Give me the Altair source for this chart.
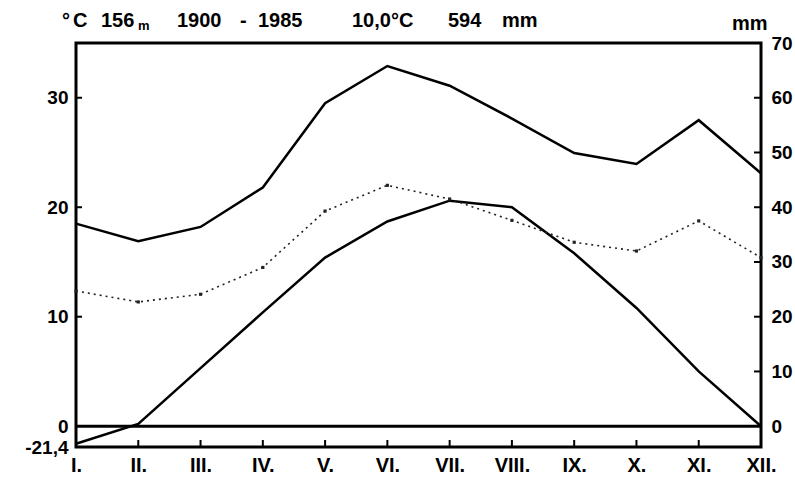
import altair as alt
import pandas as pd

# ---- data ----
months = ["I.", "II.", "III.", "IV.", "V.", "VI.", "VII.", "VIII.", "IX.", "X.", "XI.", "XII."]
temperature = [-1.6, 0.2, 5.3, 10.4, 15.4, 18.7, 20.6, 20.0, 15.8, 10.8, 5.0, 0.0]          # °C
precipitation = [37.0, 33.8, 36.4, 43.6, 59.0, 65.8, 62.2, 56.2, 49.9, 47.9, 55.9, 46.2]   # mm
dotted_curve = [24.7, 22.7, 24.1, 29.0, 39.3, 44.0, 41.5, 37.6, 33.6, 32.0, 37.5, 30.8]    # mm
left_tick_values = [10, 20, 30]
right_tick_values = [10, 20, 30, 40, 50, 60]
left_label_values = [-1.9, 0, 10, 20, 30]
right_label_values = [0, 10, 20, 30, 40, 50, 60, 70]
abs_min_label = "-21,4"
inner_ticks_months = months[1:-1]

FONT = "Liberation Sans"
W, H = 685, 404

df = pd.DataFrame({"month": months, "temp": temperature,
                   "prec": precipitation, "dot": dotted_curve})

x_axis = alt.Axis(title=None, ticks=False, tickSize=0, domain=False, grid=False,
                  labelAngle=0, labelPadding=8, labelFlush=False, labelOverlap=False,
                  labelFontSize=20, labelFontWeight="bold", labelFont=FONT,
                  labelColor="black")
x_scale = alt.Scale(type="point", padding=0)

def X(field="month"):
    return alt.X(f"{field}:N", sort=months, scale=x_scale, axis=x_axis)

t_scale = alt.Scale(domain=[-1.9, 35], nice=False, zero=False)
m_scale = alt.Scale(domain=[-3.8, 70], nice=False, zero=False)

left_axis = alt.Axis(title=None, values=left_label_values, format="d",
                     labelExpr=f"datum.value < -1 ? '{abs_min_label}' : datum.label",
                     ticks=False, tickSize=0, domain=False, grid=False, labelPadding=8,
                     labelOverlap=False, labelFlush=False,
                     labelFontSize=19, labelFontWeight="bold", labelFont=FONT,
                     labelColor="black", orient="left")
right_axis = alt.Axis(title=None, values=right_label_values, format="d",
                      ticks=False, tickSize=0, domain=False, grid=False, labelPadding=10,
                      labelOverlap=False, labelFlush=False,
                      labelFontSize=19, labelFontWeight="bold", labelFont=FONT,
                      labelColor="black", orient="right")

def YT(field):
    return alt.Y(f"{field}:Q", scale=t_scale, axis=left_axis)

def YM(field):
    return alt.Y(f"{field}:Q", scale=m_scale, axis=right_axis)

base = alt.Chart(df)

temp_line = base.mark_line(color="black", strokeWidth=2.5).encode(x=X(), y=YT("temp"))

zero_line = alt.Chart(pd.DataFrame({"v": [0]})).mark_rule(color="black", strokeWidth=3).encode(
    y=YT("v"))

left_ticks = alt.Chart(pd.DataFrame({"v": left_tick_values})).mark_rule(
    color="black", strokeWidth=2).encode(y=YT("v"), x=alt.value(0), x2=alt.value(6))

bottom_ticks = alt.Chart(pd.DataFrame({"month": inner_ticks_months})).mark_rule(
    color="black", strokeWidth=2).encode(x=X(), y=alt.value(H - 7), y2=alt.value(H))

dummy = pd.DataFrame({"d": [0]})

def txt(s, px, py, size=20, align="left"):
    return alt.Chart(dummy).mark_text(
        text=s, align=align, baseline="alphabetic", fontSize=size,
        fontWeight="bold", font=FONT, color="black").encode(
        x=alt.value(px), y=alt.value(py))

texts = [
    txt("°", -14, -16),
    txt("C", -3, -16),
    txt("156", 25, -16),
    txt("m", 62, -13, size=13),
    txt("1900", 101, -16),
    txt("-", 164, -16),
    txt("1985", 182, -16),
    txt("10,0°C", 276, -16),
    txt("594", 372, -16),
    txt("mm", 426, -16),
    txt("mm", 656, -13),
]

temp_group = alt.layer(temp_line, zero_line, left_ticks, bottom_ticks, *texts)

prec_line = base.mark_line(color="black", strokeWidth=2.5).encode(x=X(), y=YM("prec"))

dot_line = base.mark_line(color="#222222", strokeWidth=1.6, strokeDash=[2, 4]).encode(
    x=X(), y=YM("dot"))

dot_pts = base.mark_square(color="#222222", size=10, opacity=1).encode(
    x=X(), y=YM("dot"))

right_ticks = alt.Chart(pd.DataFrame({"v": right_tick_values})).mark_rule(
    color="black", strokeWidth=2).encode(y=YM("v"), x=alt.value(W - 7), x2=alt.value(W))

mm_group = alt.layer(prec_line, dot_line, dot_pts, right_ticks)

chart = alt.layer(temp_group, mm_group).resolve_scale(y="independent").properties(
    width=W, height=H,
    padding={"left": 76, "top": 43, "right": 34, "bottom": 30},
    autosize=alt.AutoSizeParams(type="none"),
    background="white",
).configure_view(stroke="black", strokeWidth=3)

chart.save("out.html", embed_options={"renderer": "svg", "actions": False})
